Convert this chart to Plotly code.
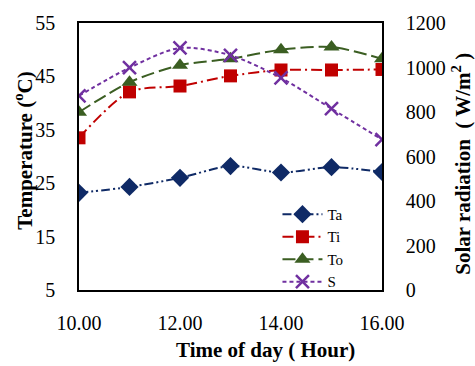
import plotly.graph_objects as go

# Hour of day
hours = [10, 11, 12, 13, 14, 15, 16]
x_ticks = [10, 12, 14, 16]
x_tick_labels = ["10.00", "12.00", "14.00", "16.00"]

# Temperatures (°C)
ta = [23.2, 24.3, 26.0, 28.2, 27.0, 28.0, 27.1]
ti = [33.5, 42.1, 43.2, 45.1, 46.2, 46.2, 46.3]
to = [38.3, 43.9, 47.1, 48.3, 50.0, 50.5, 48.3]

# Solar radiation (W/m²)
s = [873, 999, 1088, 1055, 953, 815, 676]

FONT = "Liberation Serif, Times New Roman, serif"

fig = go.Figure()

fig.add_trace(go.Scatter(
    x=hours, y=ta, name="Ta", mode="lines+markers",
    line=dict(color="#0F2A66", width=2, dash="9px,3px,2px,3px,2px,3px", shape="spline", smoothing=0.8),
    marker=dict(symbol="diamond", size=14, color="#0F2A66"),
))
fig.add_trace(go.Scatter(
    x=hours, y=ti, name="Ti", mode="lines+markers",
    line=dict(color="#C00000", width=2, dash="11px,4px,2px,4px", shape="spline", smoothing=0.8),
    marker=dict(symbol="square", size=13, color="#C00000"),
))
fig.add_trace(go.Scatter(
    x=hours, y=to, name="To", mode="lines+markers",
    line=dict(color="#3B5E22", width=2, dash="13px,5px", shape="spline", smoothing=0.8),
    marker=dict(symbol="triangle-up", size=14, color="#3B5E22"),
))
fig.add_trace(go.Scatter(
    x=hours, y=s, name="S", mode="lines+markers", yaxis="y2",
    line=dict(color="#7030A0", width=2, dash="4px,3px", shape="spline", smoothing=0.8),
    marker=dict(symbol="x-thin", size=13, color="#7030A0",
                line=dict(color="#7030A0", width=2.5)),
))

axis_common = dict(
    showgrid=False, zeroline=False, showline=True, linecolor="black", linewidth=1.5,
    ticks="", tickfont=dict(family=FONT, size=20, color="black"),
)

fig.update_layout(
    width=475, height=366,
    margin=dict(l=79, r=93, t=15, b=76),
    paper_bgcolor="white", plot_bgcolor="white",
    font=dict(family=FONT, color="black"),
    showlegend=True,
    legend=dict(
        x=0.655, y=0.345, xanchor="left", yanchor="top",
        bgcolor="rgba(0,0,0,0)", font=dict(family=FONT, size=15, color="black"),
        tracegroupgap=0, itemwidth=40,
    ),
    xaxis=dict(
        **axis_common, range=[10, 16], tickvals=x_ticks, ticktext=x_tick_labels,
        mirror=True, ticklabelstandoff=14,
    ),
    yaxis=dict(
        **axis_common, range=[5, 55], tickvals=[5, 15, 25, 35, 45, 55],
        mirror=True, ticklabelstandoff=18,
    ),
    yaxis2=dict(
        **axis_common, range=[0, 1200], tickvals=[0, 200, 400, 600, 800, 1000, 1200],
        overlaying="y", side="right", ticklabelstandoff=18,
    ),
    annotations=[
        dict(text="<b>Time of day ( Hour)</b>", xref="paper", yref="paper",
             x=0.614, y=-0.225, xanchor="center", yanchor="middle", showarrow=False,
             font=dict(family=FONT, size=21, color="black")),
        dict(text="<b>Temperature (<sup>o</sup>C)</b>", xref="paper", yref="paper",
             x=-0.183, y=0.52, xanchor="center", yanchor="middle", textangle=-90,
             showarrow=False, font=dict(family=FONT, size=21, color="black")),
        dict(text="<b>Solar radiation  ( W/m<sup>2</sup> )</b>", xref="paper", yref="paper",
             x=1.264, y=0.473, xanchor="center", yanchor="middle", textangle=-90,
             showarrow=False, font=dict(family=FONT, size=21, color="black")),
    ],
)

fig.write_html("out.html")
